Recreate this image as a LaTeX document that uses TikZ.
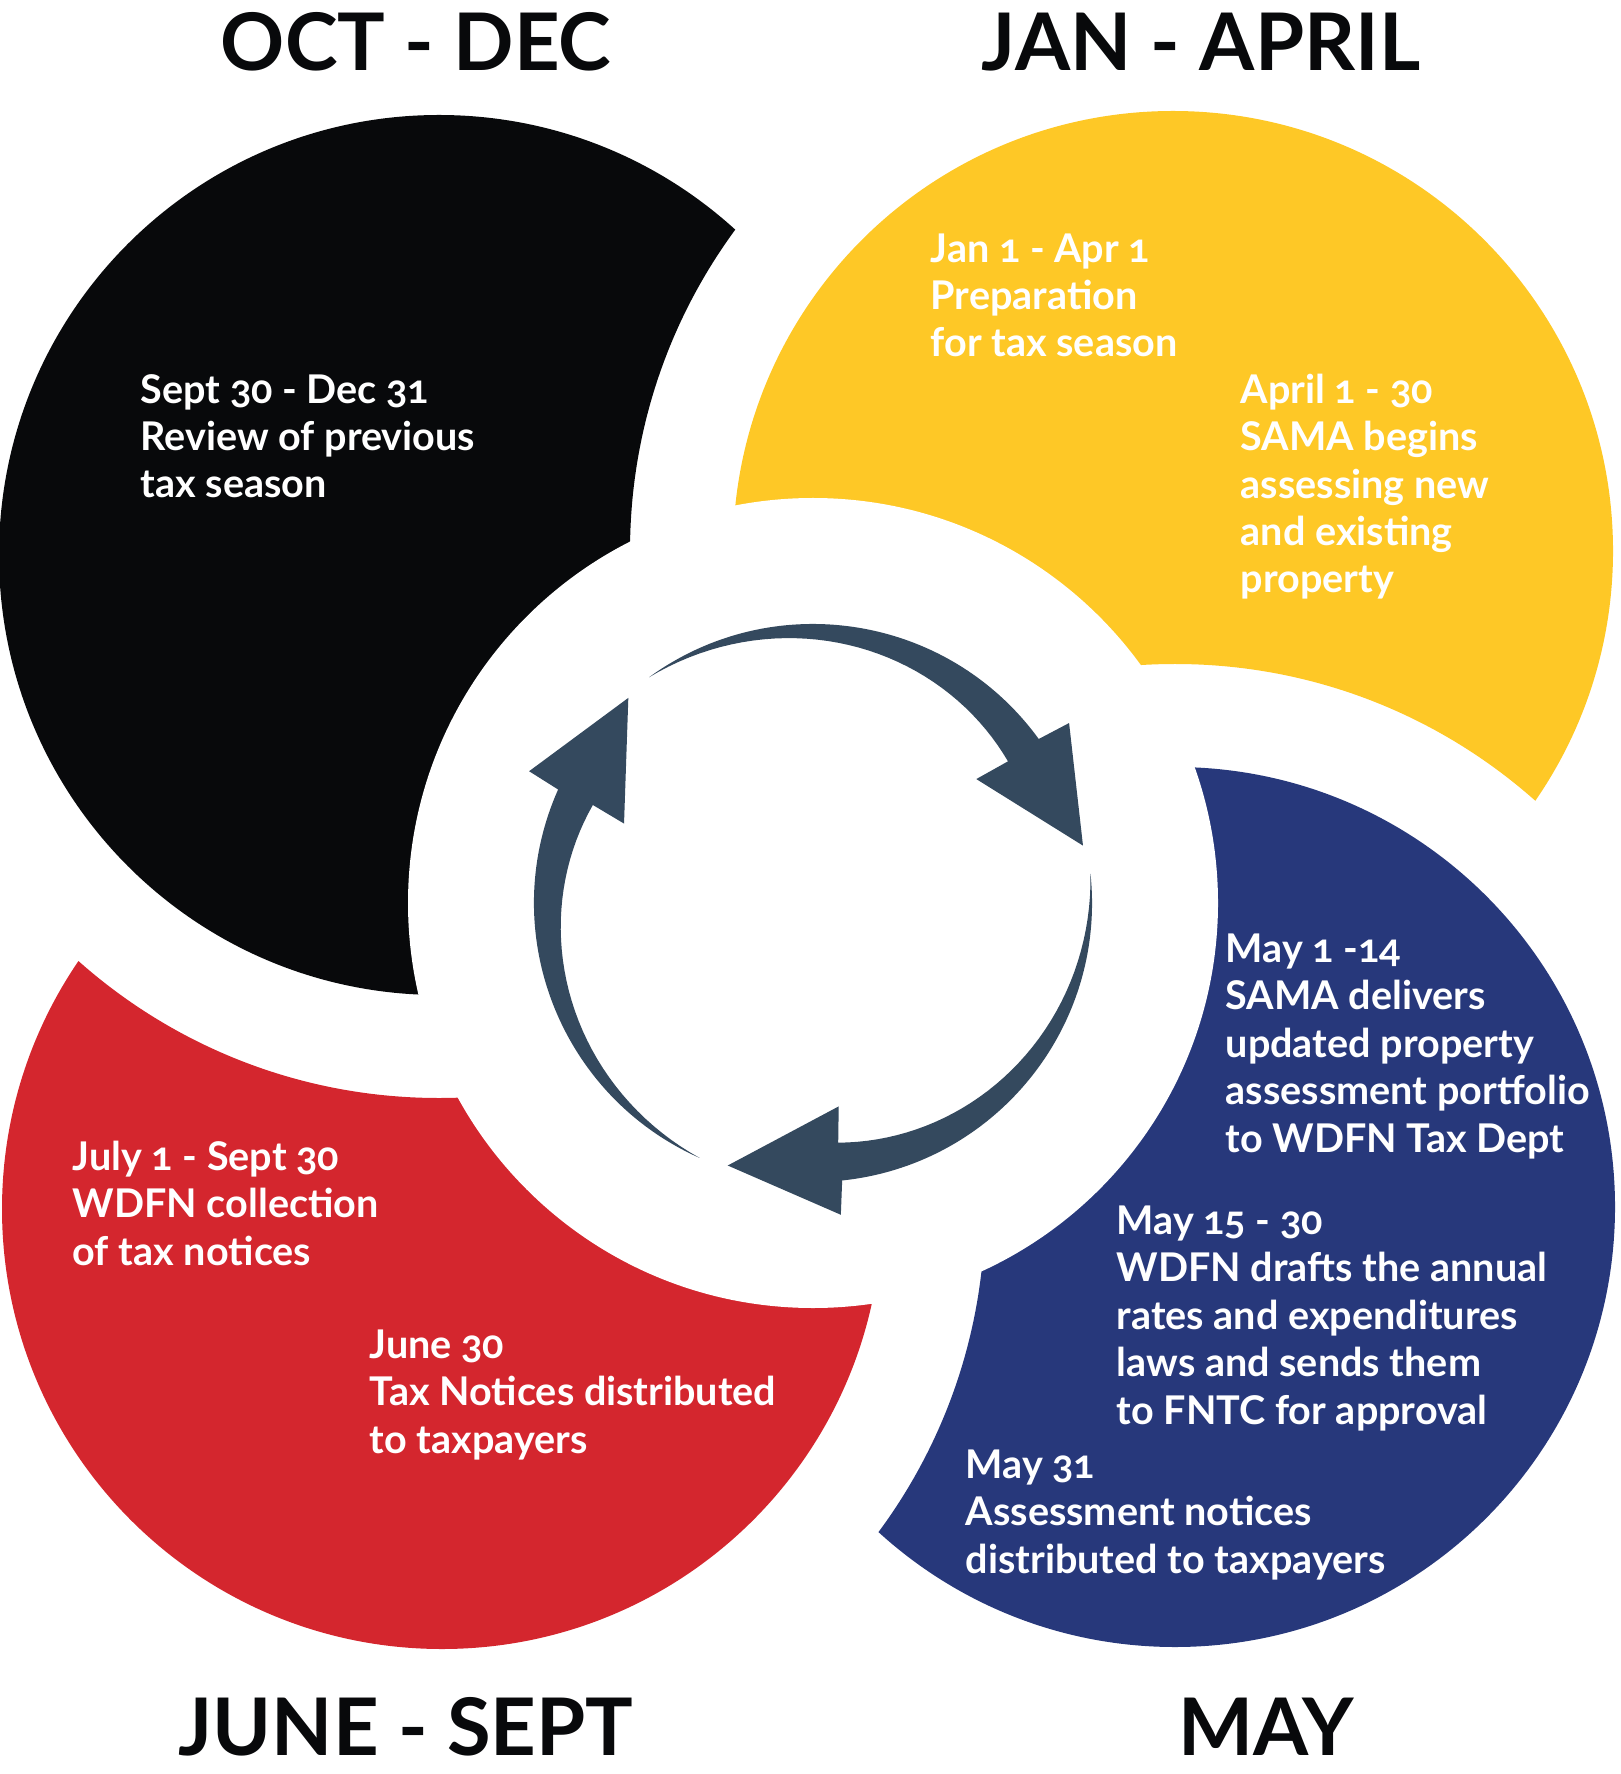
\documentclass[tikz,border=0pt]{standalone}
\usepackage{fontspec}
\setmainfont{Lato}[Numbers=OldStyle]

\definecolor{octblack}{RGB}{8,9,11}
\definecolor{janyellow}{RGB}{254,200,38}
\definecolor{mayblue}{RGB}{39,56,123}
\definecolor{junered}{RGB}{212,38,46}
\definecolor{arrowgrey}{RGB}{52,73,94}

\tikzset{
  season/.style={font=\fontsize{22.6}{26}\selectfont\bfseries, text=octblack, inner sep=0pt, anchor=base},
  note/.style={font=\fontsize{11.25}{13.5}\selectfont\bfseries, text=white, align=left, inner sep=0pt, anchor=base west}
}

% disc of one quarter, bitten by the next disc (with a white gap)
\newcommand{\quarterdisc}[3]{%
  \begin{scope}
    \clip (#3) circle[radius=543] (-100,100) -- (1800,100) -- (1800,-1900) -- (-100,-1900) -- cycle;
    \fill[#1] (#2) circle[radius=440];
  \end{scope}}

\begin{document}
\begin{tikzpicture}[x=0.01cm, y=0.01cm]
        \useasboundingbox (0,0) rectangle (1620,-1774);
        \coordinate (octc) at (439,-555);
        \coordinate (janc) at (1173,-551);
        \coordinate (mayc) at (1175,-1207);
        \coordinate (junc) at (442,-1209);
        \coordinate (hub) at (813,-903);

        \quarterdisc{octblack}{octc}{janc}
        \quarterdisc{janyellow}{janc}{mayc}
        \quarterdisc{mayblue}{mayc}{junc}
        \quarterdisc{junered}{junc}{octc}
        \fill[white] (hub) circle[radius=405];

        % the three cycle arrows
        \begin{scope}[shift={(hub)}]
        \foreach \t in {126,6,246}{
          \fill[arrowgrey] (\t:279) arc[start angle=\t, end angle=\t-90, radius=279]
            -- ({\t-90.9}:313) -- ({\t-114}:276) -- ({\t-88.8}:205) -- ({\t-90}:241)
            -- plot[domain=\t-90:\t, samples=40] (\x:{241+38*(\x-\t+90)/90}) -- cycle;
        }
        \end{scope}

        \node (octdec) at (416,-71) [season] {OCT - DEC};
        \node (janapril) at (1201,-71) [season] {JAN - APRIL};
        \node (junesept) at (406,-1755) [season] {JUNE - SEPT};
        \node (may) at (1266,-1755) [season] {MAY};

        % anchored at the baseline of the last line
        \node (review) at (140,-498) [note] {Sept 30 - Dec 31\\Review of previous\\tax season};
        \node (prep) at (930,-357) [note] {Jan 1 - Apr 1\\Preparation\\for tax season};
        \node (assess) at (1240,-593) [note] {April 1 - 30\\SAMA begins\\assessing new\\and existing\\property};
        \node (deliver) at (1225,-1152) [note] {May 1 -14\\SAMA delivers\\updated property\\assessment portfolio\\to WDFN Tax Dept};
        \node (drafts) at (1116,-1424) [note] {May 15 - 30\\WDFN drafts the annual\\rates and expenditures\\laws and sends them\\to FNTC for approval};
        \node (notices) at (965,-1573) [note] {May 31\\Assessment notices\\distributed to taxpayers};
        \node (collect) at (72,-1265) [note] {July 1 - Sept 30\\WDFN collection\\of tax notices};
        \node (taxnote) at (369,-1453) [note] {June 30\\Tax Notices distributed\\to taxpayers};
\end{tikzpicture}
\end{document}
